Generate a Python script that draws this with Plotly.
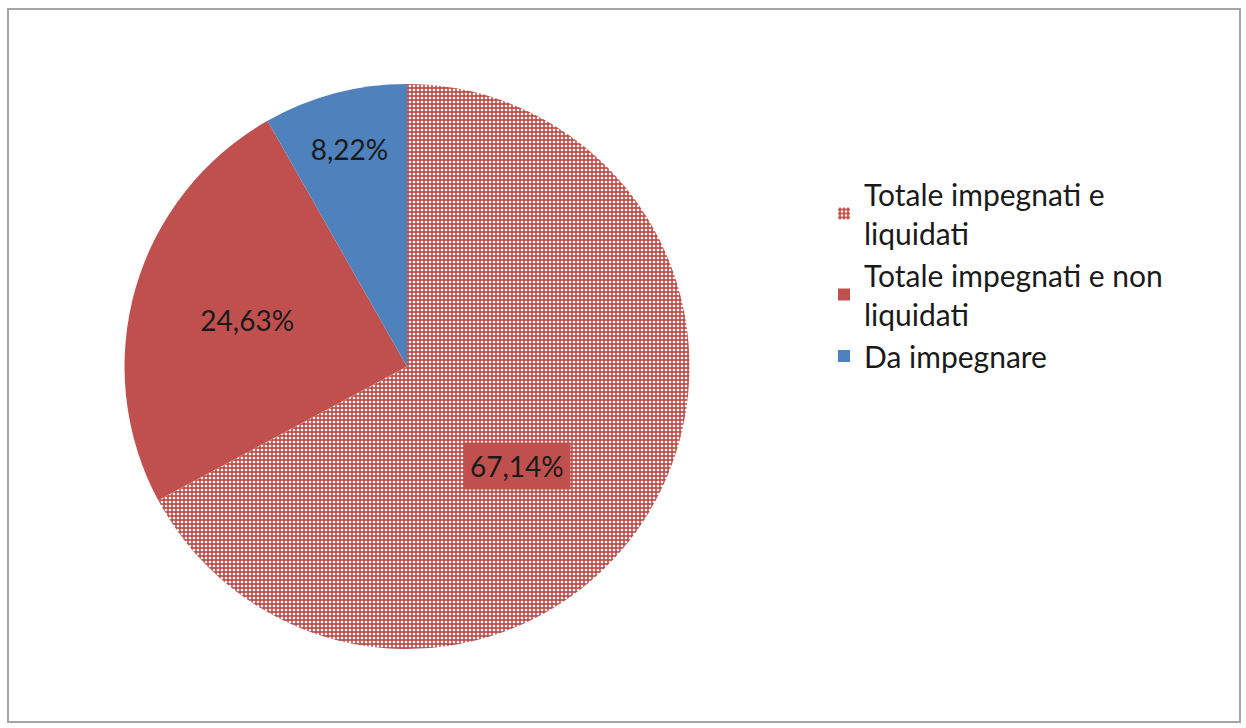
import plotly.graph_objects as go

labels = ["Totale impegnati e<br>liquidati", "Totale impegnati e non<br>liquidati", "Da impegnare"]
values = [67.14, 24.63, 8.22]
pct_text = ["67,14%", "24,63%", "8,22%"]
colors = ["#C0504D", "#C0504D", "#4F81BD"]

W, H = 1246, 728
fig = go.Figure()
fig.add_trace(go.Pie(
    labels=labels,
    values=values,
    text=["", pct_text[1], pct_text[2]],
    textinfo="text",
    textposition="inside",
    insidetextorientation="horizontal",
    sort=False,
    direction="clockwise",
    rotation=0,
    marker=dict(
        colors=colors,
        line=dict(width=0),
        pattern=dict(shape=[".", "", ""], fgcolor="white", bgcolor=colors,
                     size=4, solidity=0.35, fillmode="replace"),
    ),
    textfont=dict(family="Lato", size=28, color="#1a1a1a"),
    domain=dict(x=[124 / W, 690 / W], y=[1 - 649 / H, 1 - 84 / H]),
    hoverinfo="label+text",
))

fig.update_layout(
    width=W, height=H,
    margin=dict(l=0, r=0, t=0, b=0),
    paper_bgcolor="white",
    plot_bgcolor="white",
    showlegend=True,
    legend=dict(
        x=824 / W, y=1 - 168 / H, xanchor="left", yanchor="top",
        font=dict(family="Lato", size=30, color="#1a1a1a"),
        itemsizing="constant",
        tracegroupgap=0,
    ),
    annotations=[dict(
        text=pct_text[0], xref="paper", yref="paper",
        x=517 / W, y=1 - 466 / H, xanchor="center", yanchor="middle",
        showarrow=False, bgcolor="#C0504D", borderpad=6,
        font=dict(family="Lato", size=28, color="#1a1a1a"),
    )],
    shapes=[dict(type="rect", xref="paper", yref="paper",
                 x0=8 / W, x1=1240 / W, y0=1 - 722 / H, y1=1 - 9 / H,
                 line=dict(color="#a6a6a6", width=2), fillcolor="rgba(0,0,0,0)")],
)

fig.write_html("out.html", config={"displayModeBar": False},
               post_script="document.body.style.margin='0';document.body.style.overflow='hidden';")
